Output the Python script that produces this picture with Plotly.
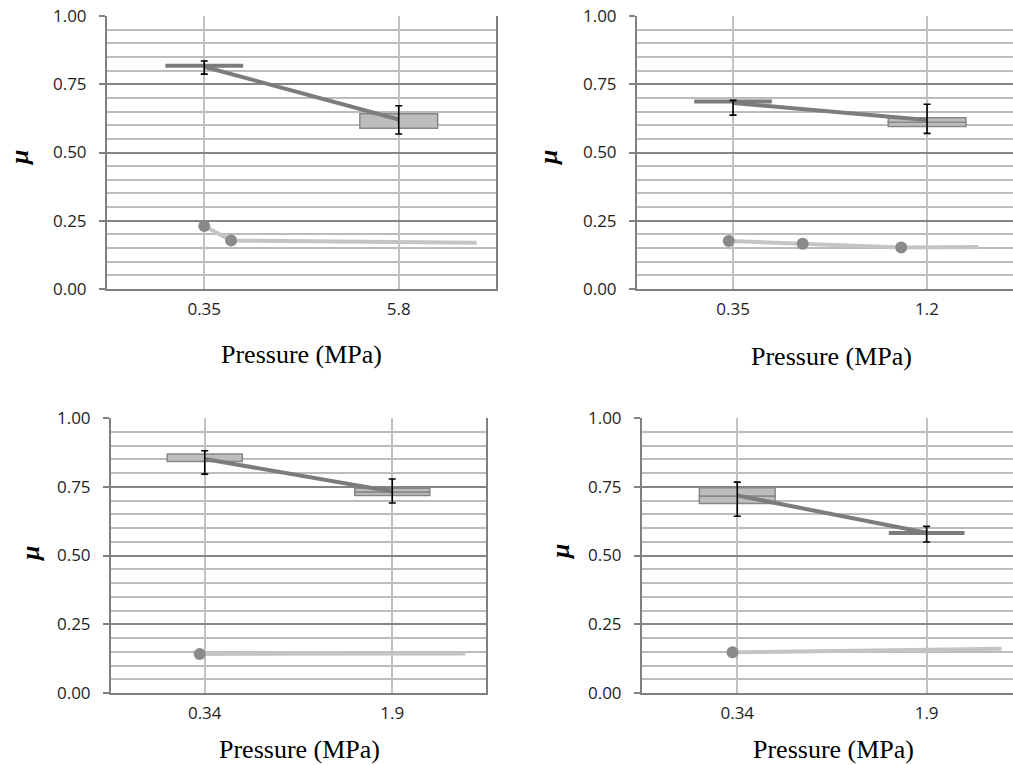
import plotly.graph_objects as go

# ---------------- data ----------------
# Panel 1 (top-left)
p1_cats = ["0.35", "5.8"]
p1_q1 = [0.818, 0.589]
p1_med = [0.818, 0.589]
p1_q3 = [0.818, 0.642]
p1_mean = [0.814, 0.621]
p1_err_hi = [0.835, 0.671]
p1_err_lo = [0.787, 0.568]
p1_light_x = [0.0, 0.138, 1.40]
p1_light_y = [0.231, 0.178, 0.169]
p1_light_marker = [True, True, False]

# Panel 2 (top-right)
p2_cats = ["0.35", "1.2"]
p2_q1 = [0.687, 0.595]
p2_med = [0.687, 0.611]
p2_q3 = [0.687, 0.627]
p2_mean = [0.681, 0.619]
p2_err_hi = [0.691, 0.677]
p2_err_lo = [0.637, 0.570]
p2_light_x = [-0.022, 0.359, 0.867, 1.264]
p2_light_y = [0.176, 0.166, 0.152, 0.154]
p2_light_marker = [True, True, True, False]

# Panel 3 (bottom-left)
p3_cats = ["0.34", "1.9"]
p3_q1 = [0.842, 0.718]
p3_med = [0.842, 0.731]
p3_q3 = [0.869, 0.745]
p3_mean = [0.851, 0.733]
p3_err_hi = [0.881, 0.778]
p3_err_lo = [0.796, 0.691]
p3_light_x = [-0.027, 1.39]
p3_light_y = [0.142, 0.144]
p3_light_marker = [True, False]

# Panel 4 (bottom-right)
p4_cats = ["0.34", "1.9"]
p4_q1 = [0.689, 0.582]
p4_med = [0.716, 0.582]
p4_q3 = [0.746, 0.582]
p4_mean = [0.718, 0.583]
p4_err_hi = [0.767, 0.606]
p4_err_lo = [0.643, 0.549]
p4_light_x = [-0.025, 1.396]
p4_light_y = [0.148, 0.161]
p4_light_marker = [True, False]

y_ticks = [0.0, 0.25, 0.5, 0.75, 1.0]
x_title = "Pressure (MPa)"
y_title = "μ"

# ---------------- layout helpers ----------------
W, H = 1013, 765


def fx(px):
    return px / W


def fy(px):
    return 1 - px / H


panels = [
    dict(cats=p1_cats, q1=p1_q1, med=p1_med, q3=p1_q3, mean=p1_mean,
         hi=p1_err_hi, lo=p1_err_lo, lx=p1_light_x, ly=p1_light_y, lm=p1_light_marker,
         xdom=(107, 496), ydom=(16, 289), xr=[-0.5, 1.5], mirror=True,
         tpos=(301, 354), mpos=(20, 158)),
    dict(cats=p2_cats, q1=p2_q1, med=p2_med, q3=p2_q3, mean=p2_mean,
         hi=p2_err_hi, lo=p2_err_lo, lx=p2_light_x, ly=p2_light_y, lm=p2_light_marker,
         xdom=(637, 1013), ydom=(16, 289), xr=[-0.495, 1.443], mirror=False,
         tpos=(831, 356), mpos=(549, 158)),
    dict(cats=p3_cats, q1=p3_q1, med=p3_med, q3=p3_q3, mean=p3_mean,
         hi=p3_err_hi, lo=p3_err_lo, lx=p3_light_x, ly=p3_light_y, lm=p3_light_marker,
         xdom=(111, 486), ydom=(418, 693), xr=[-0.5, 1.5], mirror=True,
         tpos=(299, 749), mpos=(30, 554)),
    dict(cats=p4_cats, q1=p4_q1, med=p4_med, q3=p4_q3, mean=p4_mean,
         hi=p4_err_hi, lo=p4_err_lo, lx=p4_light_x, ly=p4_light_y, lm=p4_light_marker,
         xdom=(642, 1013), ydom=(418, 693), xr=[-0.503, 1.456], mirror=False,
         tpos=(833, 749), mpos=(560, 552)),
]

BOX_W = 0.4
BOX_FILL = "#bdbdbd"
BOX_EDGE = "#878787"
DARK = "#7c7c7c"
LIGHT = "#c4c4c4"
MARK = "#8a8a8a"
AXIS = "#808080"
GRID_MAJ = "#858585"
GRID_MIN = "#bcbcbc"
GRID_X = "#c2c2c2"
TICK_FONT = dict(family="Open Sans", size=17, color="#1e1e1e")

fig = go.Figure()
layout = dict(width=W, height=H, autosize=False, margin=dict(l=0, r=0, t=0, b=0, pad=0),
              paper_bgcolor="white", plot_bgcolor="white", showlegend=False,
              barmode="overlay", annotations=[])

for i, p in enumerate(panels):
    s = "" if i == 0 else str(i + 1)
    xa, ya = "x" + s, "y" + s
    idx = list(range(len(p["cats"])))

    # boxes (two stacked parts: q1->median, median->q3)
    for lo_key, hi_key in (("q1", "med"), ("med", "q3")):
        xs, bases, hs = [], [], []
        for k in idx:
            h = p[hi_key][k] - p[lo_key][k]
            if h > 1e-9:
                xs.append(k)
                bases.append(p[lo_key][k])
                hs.append(h)
        if xs:
            fig.add_trace(go.Bar(x=xs, y=hs, base=bases, width=BOX_W,
                                 marker=dict(color=BOX_FILL, line=dict(color=BOX_EDGE, width=1.5)),
                                 xaxis=xa, yaxis=ya, hoverinfo="skip"))
    # collapsed boxes drawn as flat bars
    for k in idx:
        if p["q3"][k] - p["q1"][k] <= 1e-9:
            fig.add_trace(go.Scatter(x=[k - BOX_W / 2, k + BOX_W / 2], y=[p["q1"][k]] * 2,
                                     mode="lines", line=dict(color=DARK, width=4),
                                     xaxis=xa, yaxis=ya, hoverinfo="skip"))
    # mean line
    fig.add_trace(go.Scatter(x=idx, y=p["mean"], mode="lines",
                             line=dict(color=DARK, width=4), xaxis=xa, yaxis=ya))
    # error bars
    fig.add_trace(go.Scatter(
        x=idx, y=p["mean"], mode="markers",
        marker=dict(size=1, color="rgba(0,0,0,0)"),
        error_y=dict(type="data", symmetric=False,
                     array=[h - m for h, m in zip(p["hi"], p["mean"])],
                     arrayminus=[m - l for m, l in zip(p["mean"], p["lo"])],
                     color="black", thickness=1.6, width=3.5),
        xaxis=xa, yaxis=ya))
    # light series
    fig.add_trace(go.Scatter(x=p["lx"], y=p["ly"], mode="lines",
                             line=dict(color=LIGHT, width=4), xaxis=xa, yaxis=ya))
    mx = [x for x, m in zip(p["lx"], p["lm"]) if m]
    my = [y for y, m in zip(p["ly"], p["lm"]) if m]
    fig.add_trace(go.Scatter(x=mx, y=my, mode="markers",
                             marker=dict(color=MARK, size=12), xaxis=xa, yaxis=ya))

    layout["xaxis" + s] = dict(
        domain=[fx(p["xdom"][0]), min(1.0, fx(p["xdom"][1]))], range=p["xr"], anchor=ya,
        tickvals=idx, ticktext=p["cats"], tickfont=TICK_FONT, ticks="",
        ticklabelstandoff=4, automargin=False, ticklabeloverflow="allow",
        showgrid=True, gridcolor=GRID_X, gridwidth=1.8, zeroline=False,
        showline=True, linecolor=AXIS, linewidth=2, fixedrange=True)
    layout["yaxis" + s] = dict(
        domain=[fy(p["ydom"][1]), fy(p["ydom"][0])], range=[0, 1], anchor=xa,
        tickvals=y_ticks, ticktext=[f"{v:.2f}" for v in y_ticks], tickfont=TICK_FONT,
        ticks="outside", ticklen=6, tickwidth=2, tickcolor=AXIS, ticklabelstandoff=9,
        automargin=False, ticklabeloverflow="allow",
        showgrid=True, gridcolor=GRID_MAJ, gridwidth=1.8, zeroline=False,
        minor=dict(tick0=0, dtick=0.05, showgrid=True, gridcolor=GRID_MIN, gridwidth=1.8, ticks=""),
        showline=True, linecolor=AXIS, linewidth=2, mirror=p["mirror"], fixedrange=True)

    layout["annotations"].append(dict(
        text=x_title, xref="paper", yref="paper", x=fx(p["tpos"][0]), y=fy(p["tpos"][1]),
        xanchor="center", yanchor="middle", showarrow=False,
        font=dict(family="Liberation Serif", size=26, color="black")))
    layout["annotations"].append(dict(
        text="<b><i>" + y_title + "</i></b>", xref="paper", yref="paper",
        x=fx(p["mpos"][0]), y=fy(p["mpos"][1]), xanchor="center", yanchor="middle",
        textangle=-90, showarrow=False,
        font=dict(family="Liberation Serif", size=26, color="black")))

fig.update_layout(**layout)
fig.write_html("out.html", config={"displayModeBar": False},
               post_script="document.body.style.margin='0';document.body.style.overflow='hidden';")
